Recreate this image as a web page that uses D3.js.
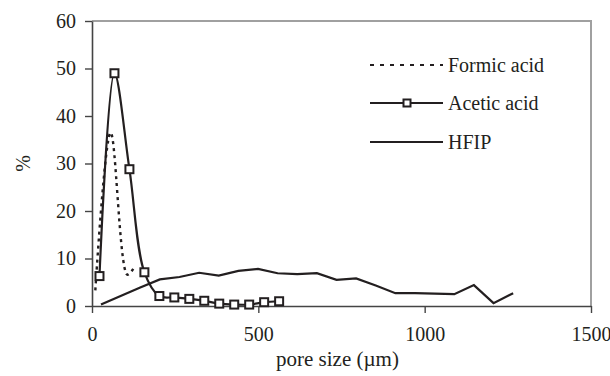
<!DOCTYPE html>
<html>
<head>
<meta charset="utf-8">
<script src="https://cdn.jsdelivr.net/npm/d3@7"></script>
<style>
  html, body { margin: 0; padding: 0; background: #fff; }
  svg { display: block; }
  svg text { font-family: "Liberation Serif", "Times New Roman", Times, "DejaVu Serif", serif !important; }
</style>
</head>
<body>
<div id="chart"></div>
<script>
// ── Data ──────────────────────────────────────────────────────────────────
const formicX = [10, 56, 106, 124]
const formicY = [3.3, 36.5, 6.6, 7.8]

const aceticX = [22.5, 67.5, 112.5, 157.5, 202.5, 247.5, 292.5, 337.5, 382.5, 427.5, 472.5, 517.5, 562.5]
const aceticY = [6.3, 49, 28.8, 7.1, 2.1, 1.8, 1.5, 1.1, 0.5, 0.3, 0.3, 0.8, 1.0]

const hfipX = [27, 86, 145, 204, 263, 322, 381, 440, 499, 558, 617, 676, 735, 794, 853, 912, 971, 1030, 1089, 1148, 1207, 1266]
const hfipY = [0.3, 2.1, 3.9, 5.6, 6.1, 7.0, 6.4, 7.4, 7.8, 6.9, 6.7, 6.9, 5.5, 5.8, 4.3, 2.7, 2.7, 2.6, 2.5, 4.4, 0.6, 2.7]

const xTicks = [0, 500, 1000, 1500]
const yTicks = [0, 10, 20, 30, 40, 50, 60]
const seriesNames = ['Formic acid', 'Acetic acid', 'HFIP']

// ── Layout ────────────────────────────────────────────────────────────────
const W = 610, H = 376
const m = { left: 92, right: 19, top: 21, bottom: 70 }
const ink = '#231f20'

const svg = d3.select('#chart').append('svg').attr('width', W).attr('height', H)

const x = d3.scaleLinear().domain([0, 1500]).range([m.left, W - m.right])
const y = d3.scaleLinear().domain([0, 60]).range([H - m.bottom, m.top])

// frame (top / right in grey)
svg.append('path')
  .attr('d', `M${x(0)},${y(60)} H${x(1500)} V${y(0)}`)
  .attr('fill', 'none').attr('stroke', '#a0a0a0').attr('stroke-width', 2)

// axes
const yAxis = svg.append('g').attr('transform', `translate(${x(0)},0)`)
  .call(d3.axisLeft(y).tickValues(yTicks).tickFormat(d3.format('d')).tickSize(7).tickSizeOuter(0).tickPadding(9))
const xAxis = svg.append('g').attr('transform', `translate(0,${y(0)})`)
  .call(d3.axisBottom(x).tickValues(xTicks).tickFormat(d3.format('d')).tickSize(7).tickSizeOuter(0).tickPadding(14))

;[xAxis, yAxis].forEach(a => {
  a.attr('font-family', null)
  a.select('.domain').attr('stroke', '#444').attr('stroke-width', 1.6)
  a.selectAll('.tick line').attr('stroke', '#444').attr('stroke-width', 1.4)
  a.selectAll('.tick text').attr('fill', ink).style('font-size', '20px')
})

svg.append('text')
  .attr('x', (x(0) + x(1500)) / 2 - 4).attr('y', 366)
  .attr('text-anchor', 'middle').attr('fill', ink)
  .style('font-size', '21px').text('pore size (µm)')

svg.append('text')
  .attr('transform', `translate(30,${(y(0) + y(60)) / 2}) rotate(-90)`)
  .attr('text-anchor', 'middle').attr('fill', ink)
  .style('font-size', '20px').text('%')

// ── Series ────────────────────────────────────────────────────────────────
const smooth = d3.line().curve(d3.curveCatmullRom.alpha(0.5))
const straight = d3.line()
const pts = (xs, ys) => xs.map((v, i) => [x(v), y(ys[i])])

svg.append('path').attr('d', straight(pts(hfipX, hfipY)))
  .attr('fill', 'none').attr('stroke', ink).attr('stroke-width', 2.2).attr('stroke-linejoin', 'miter')

svg.append('path').attr('d', smooth(pts(formicX, formicY)))
  .attr('fill', 'none').attr('stroke', ink).attr('stroke-width', 2.4).attr('stroke-dasharray', '3,4')

svg.append('path').attr('d', smooth(pts(aceticX, aceticY)))
  .attr('fill', 'none').attr('stroke', ink).attr('stroke-width', 2.2)

const sq = 8
svg.append('g').selectAll('rect')
  .data(pts(aceticX, aceticY))
  .join('rect')
  .attr('x', d => d[0] - sq / 2).attr('y', d => d[1] - sq / 2)
  .attr('width', sq).attr('height', sq)
  .attr('fill', '#fff').attr('stroke', ink).attr('stroke-width', 2)

// ── Legend ────────────────────────────────────────────────────────────────
const leg = svg.append('g')
const legY = [65, 103, 142]
seriesNames.forEach((name, i) => {
  const ln = leg.append('line')
    .attr('x1', 370).attr('x2', 443).attr('y1', legY[i]).attr('y2', legY[i])
    .attr('stroke', ink).attr('stroke-width', 2.2)
  if (i === 0) ln.attr('stroke-dasharray', '4,6')
  if (i === 1) {
    leg.append('rect').attr('x', 407 - 3.5).attr('y', legY[i] - 3.5).attr('width', 7).attr('height', 7)
      .attr('fill', '#fff').attr('stroke', ink).attr('stroke-width', 2)
  }
  leg.append('text').attr('x', 448).attr('y', legY[i] + 7).attr('fill', ink)
    .style('font-size', '20px').text(name)
})
</script>
</body>
</html>
